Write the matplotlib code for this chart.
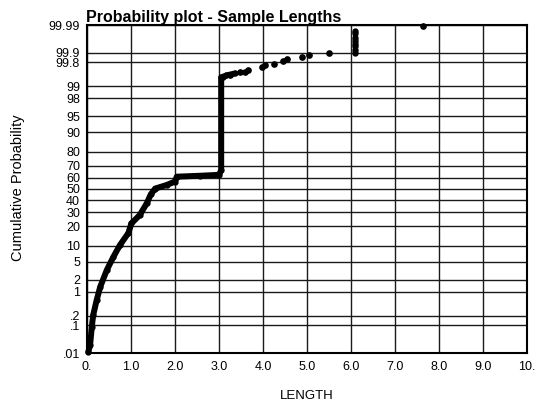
import numpy as np
import matplotlib
matplotlib.use("Agg")
import matplotlib.pyplot as plt
from statistics import NormalDist

plt.rcParams['font.family'] = ['Liberation Sans', 'DejaVu Sans']

# ---- data ----
main_length = [0.03, 0.07, 0.11, 0.14, 0.22, 0.30, 0.45, 0.60, 0.75, 0.94, 1.01,
               1.20, 1.36, 1.45, 1.55, 1.81, 2.00, 2.04, 2.57, 3.00, 3.05, 3.05,
               3.10, 3.17, 3.36]
main_prob = [0.011, 0.020, 0.090, 0.21, 0.59, 1.32, 3.3, 6.2, 10.2, 15.9, 21.8,
             27.8, 37.4, 45.2, 50.4, 53.6, 56.7, 61.0, 61.8, 62.6, 66.6, 99.43,
             99.46, 99.50, 99.56]

tail_length = [3.25, 3.48, 3.60, 3.67, 3.97, 4.05, 4.25, 4.46, 4.55, 4.88, 5.05,
               5.49, 7.63]
tail_prob = [99.52, 99.59, 99.61, 99.65, 99.72, 99.75, 99.77, 99.81, 99.84,
             99.865, 99.882, 99.897, 99.989]

cluster_length = [6.10, 6.10, 6.10, 6.10, 6.10, 6.10, 6.10, 6.10]
cluster_prob = [99.90, 99.92, 99.94, 99.95, 99.96, 99.97, 99.98, 99.983]

x_ticks = [0, 1, 2, 3, 4, 5, 6, 7, 8, 9, 10]
x_labels = ['0.', '1.0', '2.0', '3.0', '4.0', '5.0', '6.0', '7.0', '8.0', '9.0', '10.']
y_ticks = [0.01, 0.1, 0.2, 1, 2, 5, 10, 20, 30, 40, 50, 60, 70, 80, 90, 95, 98,
           99, 99.8, 99.9, 99.99]
y_labels = ['.01', '.1', '.2', '1', '2', '5', '10', '20', '30', '40', '50', '60',
            '70', '80', '90', '95', '98', '99', '99.8', '99.9', '99.99']

# ---- probability scale ----
_nd = NormalDist()
_ppf = np.vectorize(_nd.inv_cdf, otypes=[float])
_cdf = np.vectorize(_nd.cdf, otypes=[float])


def fwd(p):
    p = np.clip(np.asarray(p, dtype=float) / 100.0, 1e-9, 1 - 1e-9)
    return _ppf(p)


def inv(z):
    return _cdf(np.asarray(z, dtype=float)) * 100.0


fig = plt.figure(figsize=(5.37, 4.04), dpi=100)
ax = fig.add_axes([87 / 537, 1 - 353 / 404, 440 / 537, 328 / 404])
ax.set_yscale('function', functions=(fwd, inv))
ax.set_xlim(0, 10)
ax.set_ylim(0.01, 99.99)

ax.set_xticks(x_ticks)
ax.set_xticklabels(x_labels)
ax.set_yticks(y_ticks)
ax.set_yticklabels(y_labels)
ax.yaxis.set_minor_locator(matplotlib.ticker.NullLocator())
ax.tick_params(axis='both', length=0, labelsize=9, colors='black')
ax.tick_params(axis='x', pad=6)
ax.tick_params(axis='y', pad=5)
ax.grid(True, color='#1a1a1a', linewidth=1.0)
ax.set_axisbelow(True)
for s in ax.spines.values():
    s.set_linewidth(1.5)
    s.set_color('black')

ax.plot(main_length, main_prob, color='black', lw=4.3, solid_capstyle='round',
        solid_joinstyle='round', marker='o', ms=3.5, clip_on=False, zorder=3)
ax.plot(cluster_length, cluster_prob, color='black', lw=3.8, solid_capstyle='round',
        marker='o', ms=3.5, zorder=3)
ax.plot(tail_length, tail_prob, linestyle='none', color='black', marker='o',
        ms=3.8, clip_on=False, zorder=3)

ax.set_title('Probability plot - Sample Lengths', loc='left', fontsize=11.5,
             fontweight='bold', pad=2, x=-0.003)
fig.text(18 / 537, 1 - 188 / 404, 'Cumulative Probability', rotation=90,
         ha='center', va='center', fontsize=10.5)
fig.text(307 / 537, 1 - 396 / 404, 'LENGTH', ha='center', va='center', fontsize=9.5)

fig.savefig('out.png', dpi=100)
